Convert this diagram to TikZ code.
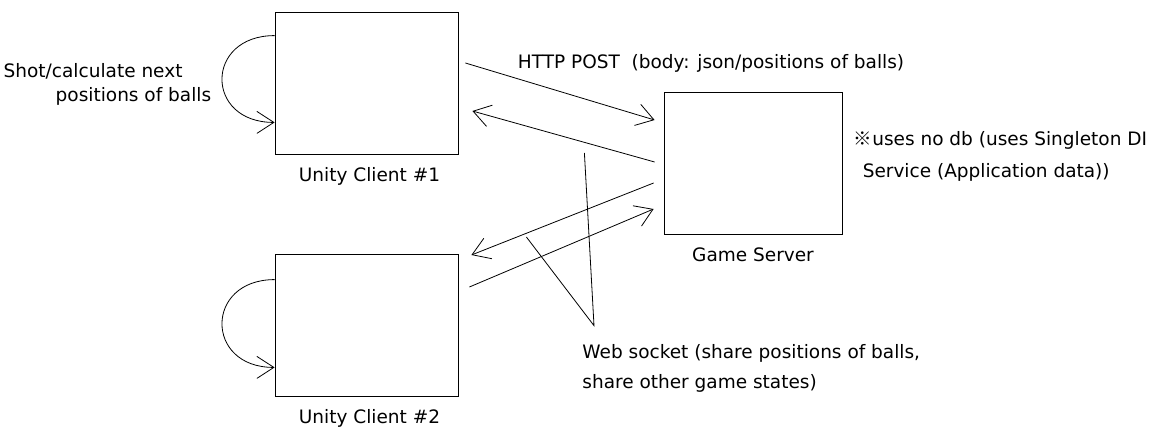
\documentclass[tikz,border=0pt]{standalone}
\usepackage{fontspec}
\setmainfont{DejaVu Sans}
\newfontfamily\cjk{Noto Sans CJK JP}
\usepackage{tikz}
\usetikzlibrary{arrows.meta, positioning, calc}

\begin{document}
\begin{tikzpicture}[
            x = 1pt, y = -1pt, % pixel-like units
            > = {Straight Barb[length=17pt, width=22pt]}, % arrow head style
            line width = 0.8pt, % line style
            font = \fontsize{18.5}{24}\selectfont
        ]

        \tikzstyle{box}=[
            draw = black,
            fill = white,
            minimum width = 183pt,
            minimum height = 142pt
        ]
        \tikzstyle{msg}=[->]
        \tikzstyle{txt}=[inner sep = 0pt, align = left]

        \useasboundingbox (0,0) rectangle (1154,431);

        \node[box] (c1) at (366.5,83) {};
        \node[box] (c2) at (366.5,325) {};
        \node[box, minimum width = 178pt] (srv) at (753,163) {};

        \node[txt, below=13pt of c1, xshift=3pt] (c1lbl) {Unity Client \#1};
        \node[txt, below=13pt of c2, xshift=3pt] (c2lbl) {Unity Client \#2};
        \node[txt, below=13pt of srv] (srvlbl) {Game Server};

        \node[txt, left=63pt of c1, yshift=-1pt] (shot) {Shot/calculate next\\\hspace*{52pt}positions of balls};
        \node[txt] (http) at (711,63) {HTTP POST\ \ (body: json/positions of balls)};
        \node[txt, font=\fontsize{18.5}{32}\selectfont, right=11pt of srv, yshift=7pt] (nodb)
            {{\cjk ※}uses no db (uses Singleton DI\\\hspace*{9pt}Service (Application data))};
        \node[txt, font=\fontsize{18.5}{30}\selectfont, anchor=west] (ws) at (582,368)
            {Web socket (share positions of balls,\\share other game states)};

        % self loops
        \draw[msg] ($(c1.north west)+(0,24)$) .. controls +(-70,0) and +(-70,0) .. ($(c1.south west)+(0,-32)$);
        \draw[msg] ($(c2.north west)+(0,26)$) .. controls +(-70,0) and +(-70,0) .. ($(c2.south west)+(0,-29)$);

        % messages
        \draw[msg] ($(c1.east)+(7,-20)$) -- ($(srv.west)+(-9,-43)$);
        \draw[msg] ($(srv.west)+(-9,-1)$) -- ($(c1.east)+(14,28)$);
        \draw[msg] ($(srv.west)+(-10,20)$) -- ($(c2.east)+(13,-70)$);
        \draw[msg] ($(c2.east)+(11,-38)$) -- ($(srv.west)+(-10,46)$);

        % web socket pointers
        \coordinate (wsv) at ($(ws.north west)+(12,-18)$);
        \draw ($(c1.east)+(126,70)$) -- (wsv) -- ($(c2.east)+(68,-88)$);

  \end{tikzpicture}
\end{document}
